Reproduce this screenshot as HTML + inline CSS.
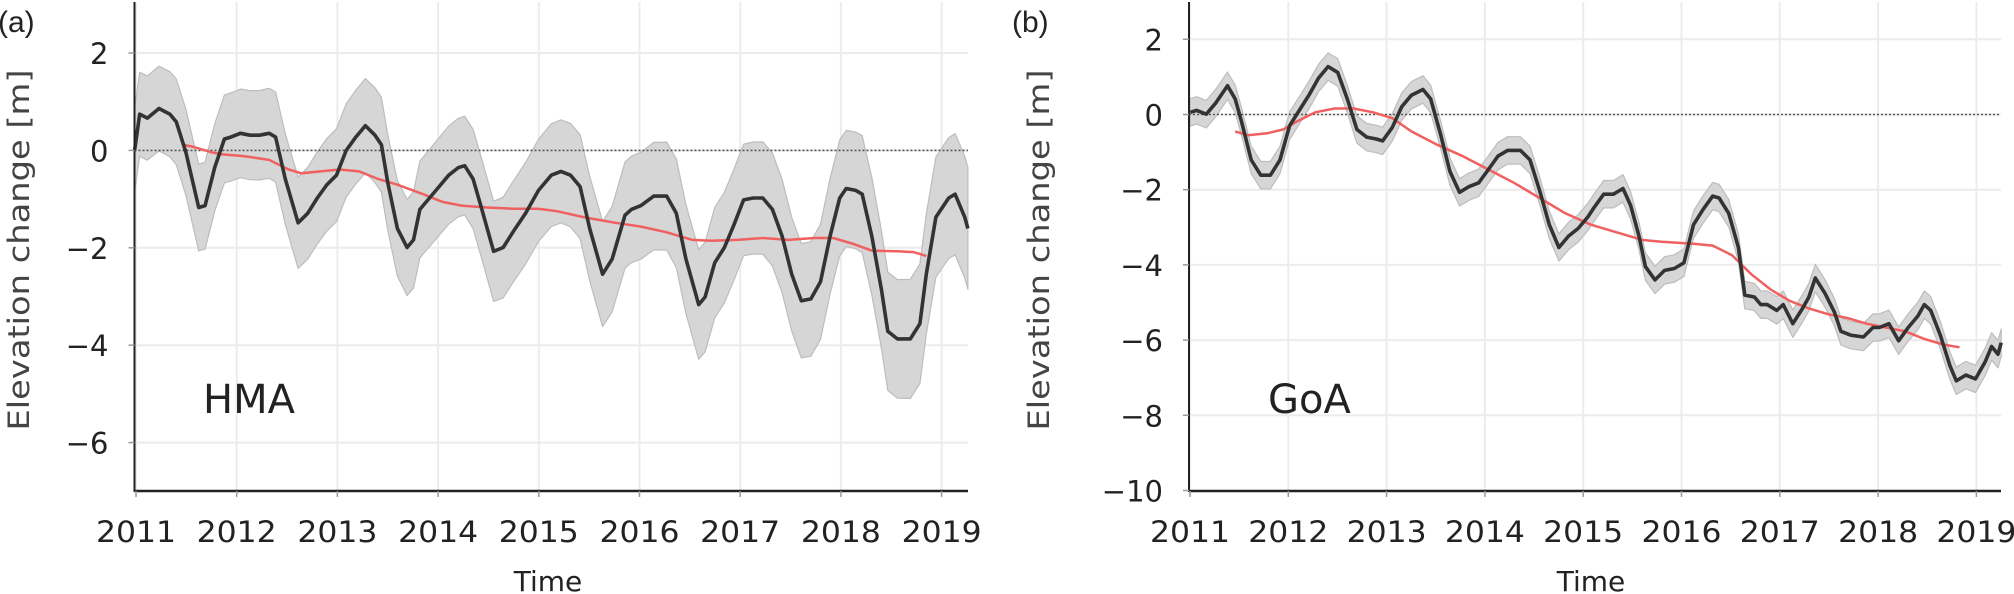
<!DOCTYPE html>
<html><head><meta charset="utf-8"><style>
html,body{margin:0;padding:0;background:#fff;}
svg{display:block;}
text{font-family:"DejaVu Sans","Liberation Sans",sans-serif;fill:#222;}
</style></head><body>
<svg id="s" width="2014" height="594" xmlns="http://www.w3.org/2000/svg">
<g id="L"></g>
<g id="R"></g>
</svg>
<script>
var NS="http://www.w3.org/2000/svg",svg=document.getElementById('s');
function el(t,a,p){var e=document.createElementNS(NS,t);for(var k in a)e.setAttribute(k,a[k]);(p||svg).appendChild(e);return e;}
function txt(s,a){var e=el('text',a);e.textContent=s;return e;}
function panel(o){
 var X=function(y){return o.x0+(y-2011)*o.px;}, Y=function(v){return o.y0-v*o.py;};
 for(var yr=2011;yr<=2019;yr++){el('line',{x1:X(yr),x2:X(yr),y1:2,y2:491,stroke:'#ececec','stroke-width':2});}
 o.yt.forEach(function(v){el('line',{x1:o.ax,x2:o.xr,y1:Y(v),y2:Y(v),stroke:'#ececec','stroke-width':2});});
 var sx=1/1.56, sy=1/2.626;
 function P(pts,dy){return pts.map(function(p){return (o.off+p[0]*sx).toFixed(1)+','+((p[1]+(dy||0))*sy).toFixed(1);});}
 var up=o.black.map(function(p,i){var w=o.w(p[0]);return [p[0],p[1]-w];});
 var lo=o.black.map(function(p,i){var w=o.w(p[0]);return [p[0],p[1]+w];}).reverse();
 el('polygon',{points:P(up).concat(P(lo)).join(' '),fill:'#d6d6d6',stroke:'#bdbdbd','stroke-width':1.2,'stroke-linejoin':'round'});
 el('line',{x1:o.ax,x2:o.xr,y1:Y(0),y2:Y(0),stroke:'#555','stroke-width':1.6,'stroke-dasharray':'2,2'});
 el('polyline',{points:P(o.red).join(' '),fill:'none',stroke:'#f06060','stroke-width':2.5});
 el('polyline',{points:P(o.black).join(' '),fill:'none',stroke:'#333','stroke-width':3.6,'stroke-linejoin':'round'});
 el('line',{x1:o.ax,x2:o.ax,y1:2,y2:492,stroke:'#222','stroke-width':2});
 el('line',{x1:o.ax,x2:o.xr,y1:491,y2:491,stroke:'#222','stroke-width':2.5});
 for(var yr=2011;yr<=2019;yr++){el('line',{x1:X(yr),x2:X(yr),y1:491,y2:497,stroke:'#999','stroke-width':1.5});
  txt(String(yr),{x:X(yr),y:542,'font-size':29,'text-anchor':'middle',textLength:80,lengthAdjust:'spacingAndGlyphs'});}
 o.yt.forEach(function(v){el('line',{x1:o.ax-6,x2:o.ax,y1:Y(v),y2:Y(v),stroke:'#999','stroke-width':1.5});
  txt(v<0?'\u2212'+(-v):String(v),{x:o.ax-26,y:Y(v)+11,'font-size':29,'text-anchor':'end'});});
 txt('Time',{x:o.tx,y:591,'font-size':28,'text-anchor':'middle'});
 txt('Elevation change [m]',{x:0,y:0,'font-size':29,'text-anchor':'middle',textLength:361,lengthAdjust:'spacingAndGlyphs',transform:'translate('+o.lx+',250) rotate(-90)',style:'fill:#444'});
 txt(o.lab,{x:o.labx,y:413,'font-size':40});
 txt(o.pl,{x:o.plx,y:32,'font-size':30,style:'font-family:Liberation Sans,sans-serif'});
}
panel({x0:136,px:100.7,y0:150.4,py:48.7,ax:134.5,xr:968,off:0,yt:[2,0,-2,-4,-6],tx:548,lx:29,lab:'HMA',labx:203,pl:'(a)',plx:-2,
 w:function(x){return 110+50*(x-212)/1300;},
 black:[[210,395],[218,300],[230,310],[248,285],[265,300],[275,320],[290,400],[310,545],[320,540],[335,440],[350,365],[360,360],[375,350],[390,355],[405,355],[420,350],[430,360],[445,470],[465,585],[480,560],[495,520],[510,485],[525,460],[540,395],[555,360],[570,330],[585,355],[595,380],[605,480],[620,600],[635,650],[645,630],[655,550],[670,520],[685,490],[700,460],[715,440],[725,435],[738,470],[750,540],[770,660],[785,650],[800,610],[820,560],[840,500],[860,460],[875,450],[890,460],[905,490],[920,600],[940,720],[955,680],[975,565],[985,550],[1000,540],[1020,515],[1040,515],[1055,560],[1070,680],[1090,800],[1100,780],[1115,690],[1130,650],[1145,590],[1160,525],[1175,520],[1190,520],[1205,550],[1220,620],[1235,720],[1250,790],[1265,785],[1280,740],[1295,620],[1310,520],[1320,495],[1335,500],[1345,510],[1360,620],[1375,760],[1385,870],[1400,890],[1420,890],[1435,850],[1445,720],[1460,570],[1480,520],[1490,510],[1505,570],[1510,600]],
 red:[[285,380],[300,385],[330,400],[345,405],[380,410],[420,420],[450,445],[470,455],[500,450],[530,445],[560,450],[590,470],[620,485],[660,510],[690,530],[720,540],[760,545],[800,548],[840,548],[870,555],[910,570],[960,585],[1000,595],[1040,610],[1080,630],[1110,632],[1150,630],[1190,625],[1230,630],[1270,625],[1300,625],[1330,640],[1360,658],[1400,660],[1425,662],[1445,672]]});
panel({x0:1190,px:98.3,y0:114.5,py:37.6,ax:1189,xr:2001,off:1014,yt:[2,0,-2,-4,-6,-8,-10],tx:1591,lx:1049,lab:'GoA',labx:1268,pl:'(b)',plx:1012,
 w:function(x){return 36;},
 black:[[275,295],[285,290],[300,300],[315,270],[333,225],[345,260],[355,320],[370,420],[385,460],[400,460],[415,420],[430,330],[445,290],[460,250],[475,205],[490,175],[505,190],[520,260],[535,340],[550,360],[565,365],[575,370],[590,335],[605,280],[620,250],[638,235],[650,260],[665,350],[680,450],[695,505],[710,490],[725,480],[740,445],[755,410],[770,395],[790,395],[805,420],[820,500],[835,590],[850,650],[865,620],[880,600],[895,570],[905,545],[920,510],[935,510],[950,495],[962,540],[975,620],[985,700],[1000,735],[1015,710],[1030,705],[1045,690],[1060,590],[1075,550],[1090,515],[1100,520],[1115,560],[1130,650],[1140,775],[1155,780],[1165,800],[1175,800],[1190,815],[1200,800],[1215,850],[1230,810],[1240,780],[1250,730],[1265,770],[1280,820],[1290,870],[1305,880],[1325,885],[1340,860],[1350,860],[1365,850],[1380,895],[1395,860],[1410,830],[1420,800],[1430,815],[1445,880],[1460,960],[1470,1000],[1485,985],[1500,995],[1515,950],[1525,910],[1535,930],[1540,900]],
 red:[[345,345],[365,355],[395,350],[420,340],[440,320],[470,295],[500,285],[530,285],[560,295],[590,310],[620,345],[660,380],[700,410],[740,445],[780,480],[820,520],[860,560],[900,590],[940,610],[980,630],[1010,635],[1060,640],[1090,645],[1120,670],[1150,720],[1180,760],[1210,790],[1240,810],[1270,825],[1300,835],[1330,850],[1360,860],[1390,870],[1420,890],[1450,905],[1475,912]]});
</script>
</body></html>
